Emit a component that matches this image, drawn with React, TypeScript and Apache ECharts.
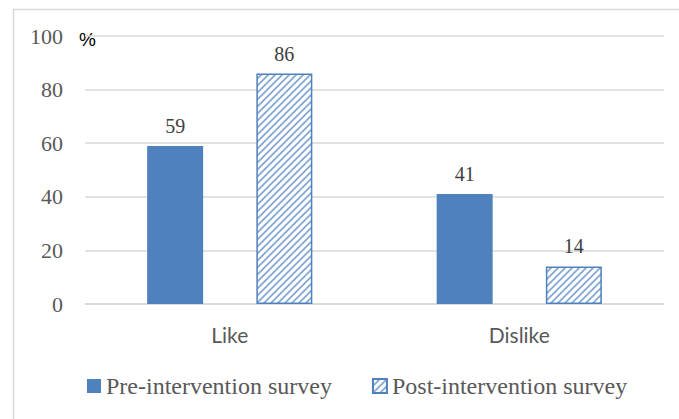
import React, { useEffect, useRef } from "react";
import * as echarts from "echarts";

const categories = ["Like", "Dislike"];
const preValues = [59, 41];
const postValues = [86, 14];
const seriesNames = ["Pre-intervention survey", "Post-intervention survey"];
const yTicks = { min: 0, max: 100, interval: 20 };

const BLUE = "#4F81BD";
const SERIF = "'Times New Roman', 'Liberation Serif', serif";

function makeHatch(): HTMLCanvasElement {
  const c = document.createElement("canvas");
  const s = 7;
  c.width = s;
  c.height = s;
  const ctx = c.getContext("2d")!;
  ctx.fillStyle = "#ffffff";
  ctx.fillRect(0, 0, s, s);
  ctx.strokeStyle = "#86a8d5";
  ctx.lineWidth = 1.8;
  ctx.beginPath();
  ctx.moveTo(-1, s + 1);
  ctx.lineTo(s + 1, -1);
  ctx.moveTo(-1, 1);
  ctx.lineTo(1, -1);
  ctx.moveTo(s - 1, s + 1);
  ctx.lineTo(s + 1, s - 1);
  ctx.stroke();
  return c;
}

export default function App() {
  const ref = useRef<HTMLDivElement>(null);
  useEffect(() => {
    if (!ref.current) return;
    const chart = echarts.init(ref.current, undefined, { renderer: "svg" });
    const hatch = makeHatch();
    const labelStyle = {
      show: true,
      position: "top" as const,
      distance: 10,
      fontFamily: SERIF,
      fontSize: 20,
      color: "#404040",
    };
    chart.setOption({
      animation: false,
      backgroundColor: "#ffffff",
      graphic: [
        {
          type: "rect",
          left: 11,
          top: 7,
          shape: { width: 800, height: 600 },
          style: { fill: "none", stroke: "#d9d9d9", lineWidth: 1.5 },
          silent: true,
        },
        {
          type: "text",
          left: 79,
          top: 30,
          style: {
            text: "%",
            fontFamily: "'Liberation Sans', Arial, sans-serif",
            fontSize: 19,
            fill: "#000000",
          },
        },
      ],
      grid: { left: 85, right: 15, top: 36, bottom: 115, containLabel: false },
      legend: {
        left: 87,
        top: 374,
        padding: 0,
        itemWidth: 14,
        itemHeight: 14,
        itemGap: 40,
        icon: "rect",
        textStyle: {
          fontFamily: SERIF,
          fontSize: 24,
          color: "#595959",
        },
        data: seriesNames,
      },
      xAxis: {
        type: "category",
        data: categories,
        axisLine: { show: true, lineStyle: { color: "#d9d9d9", width: 1.5 } },
        axisTick: { show: false },
        axisLabel: {
          fontFamily: "Lato, 'Open Sans', sans-serif",
          fontSize: 21,
          color: "#595959",
          margin: 20,
        },
      },
      yAxis: {
        type: "value",
        min: yTicks.min,
        max: yTicks.max,
        interval: yTicks.interval,
        axisLine: { show: false },
        axisTick: { show: false },
        splitLine: { lineStyle: { color: "#d9d9d9", width: 1.5 } },
        axisLabel: {
          fontFamily: SERIF,
          fontSize: 22,
          color: "#595959",
          margin: 22,
        },
      },
      series: [
        {
          name: seriesNames[0],
          type: "bar",
          data: preValues,
          barWidth: 56,
          barGap: "95%",
          itemStyle: { color: BLUE },
          label: labelStyle,
        },
        {
          name: seriesNames[1],
          type: "bar",
          data: postValues,
          barWidth: 56,
          barGap: "95%",
          itemStyle: {
            color: { image: hatch, repeat: "repeat" },
            borderColor: BLUE,
            borderWidth: 1.5,
          },
          label: labelStyle,
        },
      ],
    });
    return () => chart.dispose();
  }, []);
  return (
    <div
      ref={ref}
      style={{ position: "fixed", left: 0, top: 0, width: 679, height: 419 }}
    />
  );
}
